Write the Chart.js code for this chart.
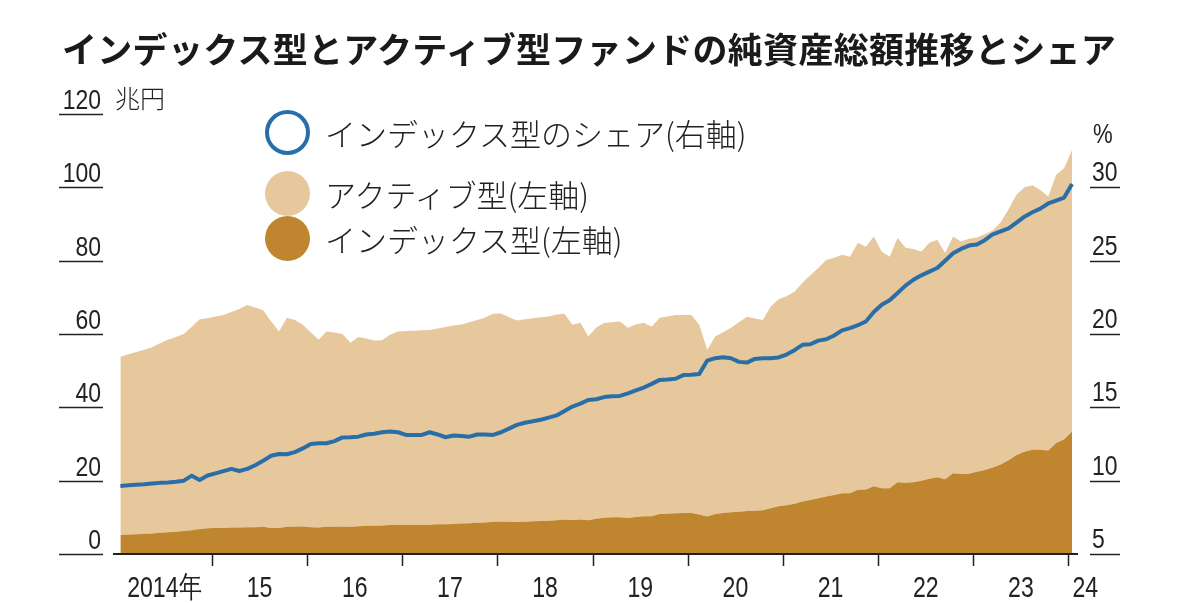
<!DOCTYPE html>
<html lang="ja">
<head>
<meta charset="utf-8">
<title>インデックス型とアクティブ型ファンドの純資産総額推移とシェア</title>
<script src="https://cdn.jsdelivr.net/npm/chart.js@4.4.1/dist/chart.umd.min.js"></script>
<style>
  html, body { margin: 0; padding: 0; background: #fff; }
  #wrap { position: relative; width: 1179px; height: 603px; overflow: hidden; }
  #chart { position: absolute; left: 0; top: 0; }
  .title { position: absolute; left: 62px; top: 27px; font: bold 35px "Noto Sans CJK JP", sans-serif; letter-spacing: 0.3px; line-height: 42px; color: #1a1a1a; white-space: nowrap; z-index: 2; }
  .item { position: absolute; left: 265px; height: 46px; display: flex; align-items: center; white-space: nowrap; z-index: 2; }
  .dot { width: 45px; height: 45px; border-radius: 50%; box-sizing: border-box; flex: none; }
  .item span { margin-left: 15px; font: 300 31px "Noto Sans CJK JP", sans-serif; color: #222; }
</style>
</head>
<body>
<div id="wrap">
  <canvas id="chart" width="1179" height="603"></canvas>
  <div class="title">インデックス型とアクティブ型ファンドの純資産総額推移とシェア</div>
  <div class="item" style="top:109px"><div class="dot" style="border:4.5px solid #2a6ea8"></div><span>インデックス型のシェア(右軸)</span></div>
  <div class="item" style="top:170px"><div class="dot" style="background:#e7c89d"></div><span>アクティブ型(左軸)</span></div>
  <div class="item" style="top:215px"><div class="dot" style="background:#c0862f"></div><span>インデックス型(左軸)</span></div>
</div>
<script>
// monthly values, Jan 2014 - Jan 2024
const startYear = 2014;

// index funds, trillion yen (left axis)
const indexAum = [
  5.2, 5.3, 5.4, 5.5, 5.6, 5.8, 5.9, 6.1, 6.3, 6.5, 6.8, 7.0,
  7.1, 7.1, 7.2, 7.2, 7.3, 7.3, 7.4, 7.1, 7.1, 7.4, 7.5, 7.5,
  7.3, 7.2, 7.4, 7.4, 7.5, 7.4, 7.6, 7.7, 7.7, 7.8, 7.9, 8.0,
  8.0, 8.0, 8.0, 8.0, 8.1, 8.1, 8.2, 8.3, 8.4, 8.5, 8.6, 8.8,
  8.8, 8.8, 8.7, 8.8, 8.9, 9.0, 9.1, 9.2, 9.4, 9.3, 9.4, 9.2,
  9.6, 9.9, 10.0, 10.0, 9.8, 10.1, 10.3, 10.3, 10.9, 11.0, 11.1, 11.2,
  11.2, 10.8, 10.2, 10.9, 11.2, 11.4, 11.5, 11.7, 11.8, 11.9, 12.5, 13.0,
  13.3, 13.7, 14.3, 14.7, 15.2, 15.7, 16.1, 16.6, 16.6, 17.5, 17.6, 18.5,
  17.9, 17.9, 19.6, 19.4, 19.6, 20.0, 20.5, 20.9, 20.4, 22.0, 21.8, 21.9,
  22.4, 22.9, 23.6, 24.4, 25.6, 27.0, 27.9, 28.4, 28.4, 28.2, 30.3, 31.3,
  33.4
];

// active funds, trillion yen (left axis, stacked on index)
const activeAum = [
  48.6, 49.2, 49.7, 50.2, 50.8, 51.7, 52.5, 53.1, 53.7, 55.5, 57.2, 57.3,
  57.7, 58.1, 58.8, 59.6, 60.6, 59.9, 59.1, 56.4, 53.6, 57.0, 56.3, 55.0,
  53.2, 51.2, 53.3, 53.0, 52.5, 50.2, 51.6, 51.1, 50.5, 50.5, 51.9, 52.7,
  52.8, 52.9, 53.0, 53.1, 53.4, 53.8, 54.1, 54.3, 54.8, 55.3, 55.9, 56.7,
  56.8, 55.8, 55.0, 55.2, 55.4, 55.6, 55.7, 56.1, 56.1, 53.2, 53.7, 50.1,
  52.2, 53.1, 53.2, 53.4, 51.9, 52.5, 52.8, 51.7, 53.5, 53.8, 54.1, 54.0,
  54.0, 51.7, 45.5, 48.4, 49.3, 50.3, 51.7, 53.0, 52.4, 51.9, 55.0, 56.5,
  57.0, 57.8, 59.7, 61.3, 62.8, 64.5, 64.7, 65.0, 64.5, 67.4, 66.2, 68.1,
  64.6, 63.2, 66.6, 64.1, 63.6, 62.5, 64.4, 64.8, 61.7, 64.6, 63.4, 64.1,
  63.9, 64.3, 64.6, 66.1, 68.4, 71.0, 72.1, 72.2, 70.9, 69.3, 73.1, 73.9,
  76.8
];

// index share, % (right axis)
const indexShare = [
  9.64, 9.68, 9.72, 9.75, 9.80, 9.85, 9.88, 9.93, 10.0, 10.34, 10.05, 10.35,
  10.5, 10.65, 10.8, 10.66, 10.8, 11.05, 11.35, 11.7, 11.82, 11.8, 11.95, 12.2,
  12.5, 12.55, 12.55, 12.7, 12.95, 12.96, 13.0, 13.15, 13.2, 13.3, 13.35, 13.3,
  13.12, 13.12, 13.12, 13.3, 13.15, 12.96, 13.08, 13.05, 13.0, 13.15, 13.15, 13.12,
  13.3, 13.55, 13.8, 13.95, 14.05, 14.15, 14.3, 14.45, 14.75, 15.05, 15.25, 15.5,
  15.55, 15.7, 15.75, 15.78, 15.95, 16.15, 16.35, 16.6, 16.87, 16.9, 16.95, 17.2,
  17.22, 17.28, 18.19, 18.35, 18.42, 18.35, 18.1, 18.05, 18.3, 18.35, 18.35, 18.4,
  18.6, 18.9, 19.26, 19.3, 19.55, 19.64, 19.9, 20.25, 20.4, 20.6, 20.85, 21.5,
  22.0, 22.3, 22.8, 23.3, 23.7, 24.0, 24.25, 24.5, 25.0, 25.5, 25.8, 26.03,
  26.1, 26.4, 26.8, 27.0, 27.2, 27.6, 28.0, 28.3, 28.55, 28.9, 29.1, 29.3,
  30.22
];

// axis ticks
const yearTicks = [2015, 2016, 2017, 2018, 2019, 2020, 2021, 2022, 2023, 2024];
const yearLabels = ['2014年', '15', '16', '17', '18', '19', '20', '21', '22', '23', '24'];
const leftTicks = [0, 20, 40, 60, 80, 100, 120];
const rightTicks = [5, 10, 15, 20, 25, 30];

const toPoints = arr => arr.map((v, i) => ({ x: startYear + (i + 0.45) / 12, y: v }));

const numFont = '28px "Liberation Sans", Arial, sans-serif';
const yearFont = '30px "Liberation Sans", Arial, sans-serif';

// condensed-looking text: squeeze the glyphs horizontally
function narrowText(ctx, text, x, y, align, sx) {
  ctx.save();
  ctx.translate(x, y);
  ctx.scale(sx || 0.82, 1);
  ctx.textAlign = align;
  ctx.fillText(text, 0, 0);
  ctx.restore();
}

// axes drawn by hand: labels sit above short tick lines
const decor = {
  id: 'decor',
  afterDraw(chart) {
    const { ctx, chartArea, scales } = chart;
    const xs = scales.x, yL = scales.y, yR = scales.y1;
    ctx.save();
    ctx.strokeStyle = '#222';
    ctx.fillStyle = '#222';
    ctx.textBaseline = 'alphabetic';

    const seg = (x1, y1, x2, y2, w) => {
      ctx.lineWidth = w;
      ctx.beginPath();
      ctx.moveTo(x1, y1);
      ctx.lineTo(x2, y2);
      ctx.stroke();
    };

    // left axis
    ctx.font = numFont;
    leftTicks.forEach(v => {
      const py = Math.round(yL.getPixelForValue(v)) + 0.5;
      seg(59, py, 103, py, 1.5);
      narrowText(ctx, String(v), 101, py - 6, 'right');
    });
    ctx.textAlign = 'left';
    ctx.font = '300 25px "Noto Sans CJK JP", sans-serif';
    ctx.fillText('兆円', 115, yL.getPixelForValue(120) - 6);

    // right axis
    ctx.font = numFont;
    rightTicks.forEach(v => {
      const py = Math.round(yR.getPixelForValue(v)) + 0.5;
      seg(1090, py, 1120, py, 1.5);
      narrowText(ctx, String(v), 1092, py - 7, 'left');
    });
    ctx.font = '27px "Liberation Sans", sans-serif';
    narrowText(ctx, '%', 1093, yR.getPixelForValue(30) - 44, 'left');

    // x axis
    const base = chartArea.bottom;
    seg(chartArea.left, base, chartArea.right, base, 2.2);
    yearTicks.forEach(t => {
      const px = Math.round(xs.getPixelForValue(t)) + 0.5;
      seg(px, base, px, base + 12, 1.5);
    });
    ctx.font = yearFont;
    yearLabels.forEach((lab, i) => {
      const yr = startYear + i;
      if (yr === 2024) {
        narrowText(ctx, lab, xs.getPixelForValue(yr) + 4, base + 43, 'left', 0.77);
      } else {
        narrowText(ctx, lab, xs.getPixelForValue(yr + 0.5), base + 43, 'center', 0.77);
      }
    });
    ctx.restore();
  }
};

new Chart(document.getElementById('chart'), {
  type: 'line',
  data: {
    datasets: [
      {
        label: 'インデックス型(左軸)',
        data: toPoints(indexAum),
        yAxisID: 'y',
        backgroundColor: '#c0862f',
        borderWidth: 0,
        fill: 'origin',
        pointRadius: 0,
        order: 2
      },
      {
        label: 'アクティブ型(左軸)',
        data: toPoints(activeAum),
        yAxisID: 'y',
        backgroundColor: '#e7c89d',
        borderWidth: 0,
        fill: '-1',
        pointRadius: 0,
        order: 3
      },
      {
        label: 'インデックス型のシェア(右軸)',
        data: toPoints(indexShare),
        yAxisID: 'y1',
        borderColor: '#2a6ea8',
        borderWidth: 4,
        borderJoinStyle: 'round',
        fill: false,
        pointRadius: 0,
        order: 1
      }
    ]
  },
  options: {
    responsive: false,
    animation: false,
    layout: { padding: { left: 113, right: 101, top: 114, bottom: 49 } },
    plugins: { legend: { display: false }, tooltip: { enabled: false } },
    scales: {
      x: { type: 'linear', min: 2013.96, max: 2024.1, display: false },
      y: { min: 0, max: 120, stacked: true, display: false },
      y1: { min: 5, max: 35, stacked: false, display: false }
    }
  },
  plugins: [decor]
});
</script>
</body>
</html>
